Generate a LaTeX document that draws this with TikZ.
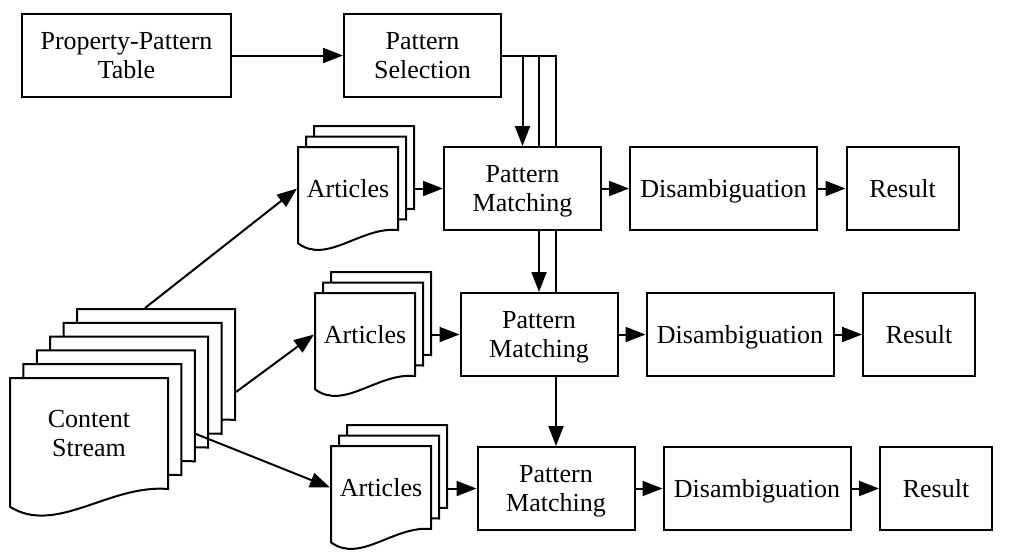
\documentclass[tikz,border=0pt]{standalone}
\usepackage{fontspec}
\setmainfont{Liberation Serif}
\usetikzlibrary{arrows.meta,backgrounds}

% one sheet of a document stack: name, left, top, width, height, text
\newcommand{\docsheet}[6]{%
  \filldraw[sheet] (#2,#3) -- ({#2+#4},#3) -- ({#2+#4},{#3+#5})
    .. controls ({#2+0.63*#4},{#3+0.955*#5}) and ({#2+0.29*#4},{#3+1.42*#5}) .. (#2,{#3+1.16*#5}) -- cycle;
  \node[minimum width={#4*0.5pt},minimum height={#5*0.5pt},inner sep=0pt,align=center,text depth=0pt]
    (#1) at ({#2+#4/2},{#3+#5/2}) {#6};
}

\begin{document}
\begin{tikzpicture}[x=0.5pt,y=-0.5pt,line width=1pt,
    font=\fontsize{13}{14.5}\selectfont,
    box/.style={draw,fill=white,align=center,inner sep=0pt,minimum height=41.5pt,text depth=0pt},
    sheet/.style={draw,fill=white},
    arr/.style={-{Triangle[length=10pt,width=7.5pt]}}]

  \useasboundingbox (0,0) rectangle (1010,559);

  % top row
  \node[box,minimum width=104.5pt] (ppt)  at (126.5,55.5) {Property-Pattern\\Table};
  \node[box,minimum width=78.5pt]  (psel) at (422.5,55.5) {Pattern\\Selection};

  % matching rows
  \foreach \r/\x/\y in {1/522.5/188.5, 2/539/334.5, 3/556/488.5}{
    \node[box,minimum width=78.5pt] (pm\r)  at (\x,\y) {Pattern\\Matching};
    \node[box,minimum width=93.5pt] (dis\r) at (\x+201,\y) {Disambiguation};
    \node[box,minimum width=56pt]   (res\r) at (\x+380,\y) {Result};
  }

  % content stream
  \foreach \i in {5,4,...,1}{
    \pgfmathsetmacro\l{10+13.4*\i}
    \pgfmathsetmacro\t{378-13.8*\i}
    \docsheet{cs\i}{\l}{\t}{158}{111}{}
  }
  \docsheet{cs0}{10}{378}{158}{111}{Content\\Stream}

  % articles
  \foreach \r/\l/\t in {1/298/147, 2/315/293, 3/331/446}{
    \foreach \i in {2,1}{
      \docsheet{art\r-\i}{\l+8*\i}{\t-10.5*\i}{100}{83}{}
    }
    \docsheet{art\r}{\l}{\t}{100}{83}{Articles}
  }

  \draw[arr] (ppt) -- (psel);
  \begin{scope}[on background layer]
    \draw[arr,line width=1pt] (psel.east) -| (pm1.north);
    \draw[arr,line width=1pt] (psel.east) -| (pm2.north);
    \draw[arr,line width=1pt] (psel.east) -| (pm3.north);
  \end{scope}

  \draw[arr] ([xshift=-5.5pt]cs5.north) -- (art1.west);
  \draw[arr] ([yshift=-13.75pt]cs5.east) -- (art2.west);
  \draw[arr] ([yshift=-14pt]cs2.east) -- (art3.west);

  \foreach \r in {1,2,3}{
    \draw[arr] (art\r-2.east |- pm\r.west) -- (pm\r.west);
    \draw[arr] (pm\r) -- (dis\r);
    \draw[arr] (dis\r) -- (res\r);
  }

\end{tikzpicture}
\end{document}
